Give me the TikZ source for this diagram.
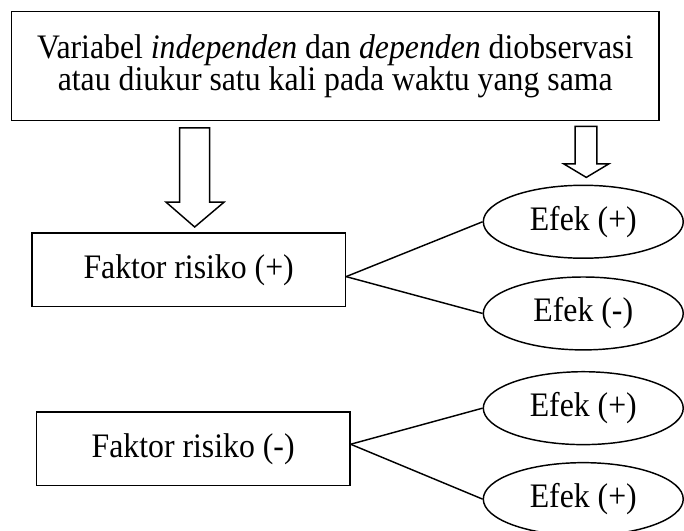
\documentclass[tikz,border=0pt]{standalone}
\usepackage{fontspec}
\setmainfont{Liberation Serif}[FakeStretch=0.925]
\usepackage{tikz}
\usetikzlibrary{shapes.geometric}

\begin{document}
\begin{tikzpicture}[
  every node/.style={font=\fontsize{13}{12}\selectfont, inner sep=0pt},
  obsbox/.style={draw, line width=0.55pt, align=center,
    minimum width=8.61cm, minimum height=1.45cm},
  factorbox/.style={draw, line width=0.55pt, align=center,
    minimum width=4.17cm, minimum height=0.98cm},
  efekbox/.style={draw, ellipse, line width=0.55pt,
    minimum width=2.66cm, minimum height=0.97cm},
  blockarrow/.style={draw, line width=0.55pt, line join=miter},
  every path/.style={line width=0.55pt}
]
  \useasboundingbox (0,0) rectangle (9.10,-7.06);

  \node[obsbox] (obs) at (4.46,-0.88)
    {Variabel \textit{independen} dan \textit{dependen} diobservasi\\
     atau diukur satu kali pada waktu yang sama};

  \node[factorbox] (fplus) at (2.51,-3.59) {Faktor risiko (+)};
  \node[factorbox] (fminus) at (2.57,-5.97) {Faktor risiko (-)};

  \node[efekbox] (eplusa) at (7.76,-2.95) {Efek (+)};
  \node[efekbox] (eminus) at (7.76,-4.17) {Efek (-)};
  \node[efekbox] (eplusb) at (7.76,-5.43) {Efek (+)};
  \node[efekbox] (eplusc) at (7.76,-6.64) {Efek (+)};

  % hollow arrows below the top box
  \draw[blockarrow] (2.39,-1.70) -- (2.79,-1.70) -- (2.79,-2.69) -- (2.98,-2.69)
    -- (2.59,-3.02) -- (2.21,-2.69) -- (2.39,-2.69) -- cycle;
  \draw[blockarrow] (7.65,-1.68) -- (7.94,-1.68) -- (7.94,-2.18) -- (8.10,-2.18)
    -- (7.80,-2.36) -- (7.50,-2.18) -- (7.65,-2.18) -- cycle;

  \draw ([yshift=-0.9mm]fplus.east) -- (eplusa.west);
  \draw ([yshift=-0.9mm]fplus.east) -- (eminus.west);
  \draw ([yshift=0.6mm]fminus.east) -- (eplusb.west);
  \draw ([yshift=0.6mm]fminus.east) -- (eplusc.west);
\end{tikzpicture}
\end{document}
